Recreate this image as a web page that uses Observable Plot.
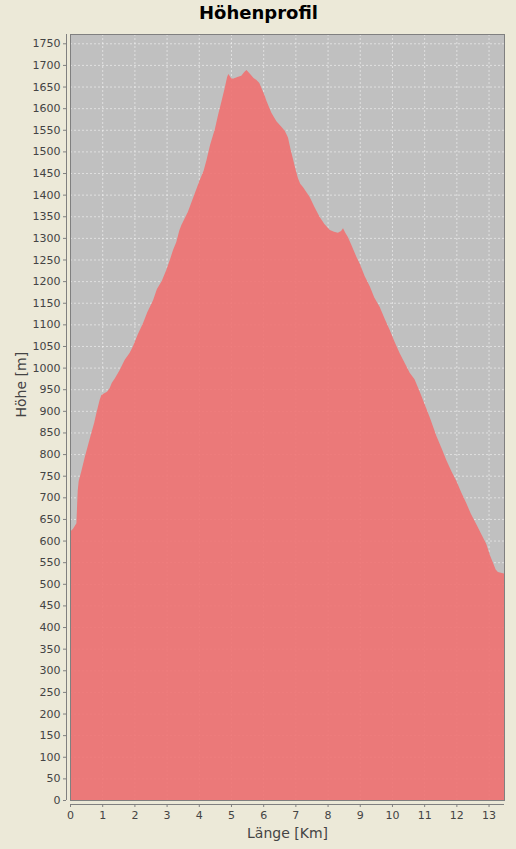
<!DOCTYPE html>
<html>
<head>
<meta charset="utf-8">
<script src="https://cdn.jsdelivr.net/npm/d3@7"></script>
<script src="https://cdn.jsdelivr.net/npm/@observablehq/plot@0.6"></script>
<style>
  html, body { margin: 0; padding: 0; background: #ECE9D8; }
</style>
</head>
<body>
<div id="chart"></div>
<script>
const distanceKm = [0, 0.1, 0.2, 0.22, 0.24, 0.27, 0.35, 0.46, 0.55, 0.66, 0.75, 0.82, 0.92, 0.97, 1.05, 1.15, 1.23, 1.3, 1.39, 1.54, 1.7, 1.85, 1.96, 2.1, 2.27, 2.4, 2.58, 2.7, 2.85, 2.99, 3.1, 3.2, 3.3, 3.4, 3.46, 3.66, 3.85, 4.03, 4.15, 4.24, 4.35, 4.5, 4.6, 4.7, 4.8, 4.88, 4.92, 5.0, 5.06, 5.2, 5.32, 5.42, 5.48, 5.58, 5.7, 5.79, 5.88, 5.94, 6.05, 6.1, 6.25, 6.41, 6.55, 6.67, 6.77, 6.85, 6.93, 7.0, 7.08, 7.15, 7.24, 7.35, 7.44, 7.6, 7.75, 7.9, 8.07, 8.2, 8.32, 8.42, 8.48, 8.55, 8.63, 8.75, 8.89, 9.0, 9.15, 9.31, 9.45, 9.62, 9.78, 9.93, 10.08, 10.24, 10.4, 10.55, 10.7, 10.86, 11.0, 11.17, 11.38, 11.55, 11.69, 11.85, 12.0, 12.15, 12.31, 12.45, 12.62, 12.78, 12.93, 13.05, 13.14, 13.22, 13.29, 13.35, 13.48];
const elevationM = [620, 628, 640, 680, 715, 738, 760, 793, 818, 848, 872, 895, 925, 936, 940, 944, 952, 965, 975, 994, 1018, 1034, 1050, 1076, 1103, 1128, 1156, 1182, 1200, 1226, 1249, 1272, 1290, 1318, 1330, 1360, 1398, 1434, 1455, 1480, 1515, 1552, 1585, 1614, 1645, 1672, 1679, 1670, 1668, 1672, 1675, 1684, 1688, 1680, 1670, 1665, 1658, 1648, 1628, 1617, 1590, 1570, 1558, 1548, 1532, 1505, 1481, 1460, 1438, 1425, 1417, 1405, 1395, 1370, 1349, 1332, 1318, 1314, 1312, 1316, 1322, 1312, 1302, 1282, 1257, 1240, 1212, 1188, 1162, 1140, 1112, 1087, 1060, 1033, 1010, 988, 973, 945, 918, 886, 842, 812, 786, 760, 738, 712, 686, 662, 638, 614, 592, 565, 548, 533, 527, 526, 524];
const xTicks = [0, 1, 2, 3, 4, 5, 6, 7, 8, 9, 10, 11, 12, 13];
const yTicks = d3.range(0, 1751, 50);
const titleText = "Höhenprofil";
const xLabel = "Länge [Km]";
const yLabel = "Höhe [m]";

const data = distanceKm.map((d, i) => ({km: d, m: elevationM[i]}));

const chart = Plot.plot({
  width: 516,
  height: 849,
  marginLeft: 70,
  marginRight: 12,
  marginTop: 34,
  marginBottom: 49,
  style: {fontFamily: "DejaVu Sans", fontSize: "11px", background: "#ECE9D8", color: "#444"},
  x: {domain: [0, 13.48]},
  y: {domain: [0, 1771.5]},
  marks: [
    Plot.frame({fill: "#c0c0c0", stroke: "none"}),
    Plot.gridX(xTicks, {stroke: "white", strokeOpacity: 0.5, strokeDasharray: "2,2"}),
    Plot.gridY(yTicks, {stroke: "white", strokeOpacity: 0.5, strokeDasharray: "2,2"}),
    Plot.areaY(data, {x: "km", y: "m", fill: "rgb(240,110,110)", fillOpacity: 0.88, clip: true}),
    Plot.frame({stroke: "#808080", strokeOpacity: 1}),
    Plot.ruleX([0], {dx: -4, stroke: "#808080"}),
    Plot.ruleY([0], {dy: 4, stroke: "#808080"}),
    Plot.axisY(yTicks, {dx: -4, tickSize: 3, tickPadding: 3, stroke: "#808080", fill: "#444", fontSize: 11, label: null, tickFormat: d => String(d)}),
    Plot.axisX(xTicks, {dy: 4, tickSize: 3, tickPadding: 4, stroke: "#808080", fill: "#444", fontSize: 11, label: null, tickFormat: d => String(d)}),
    Plot.text([titleText], {frameAnchor: "top", dx: -29, dy: -21, fontSize: 18, fontWeight: "bold", fill: "#000", lineAnchor: "middle"}),
    Plot.text([xLabel], {frameAnchor: "bottom", dy: 33, fontSize: 14, fill: "#444", lineAnchor: "middle"}),
    Plot.text([yLabel], {frameAnchor: "left", dx: -49, rotate: -90, fontSize: 14, fill: "#444", lineAnchor: "middle"})
  ]
});
document.getElementById("chart").appendChild(chart);
</script>
</body>
</html>
